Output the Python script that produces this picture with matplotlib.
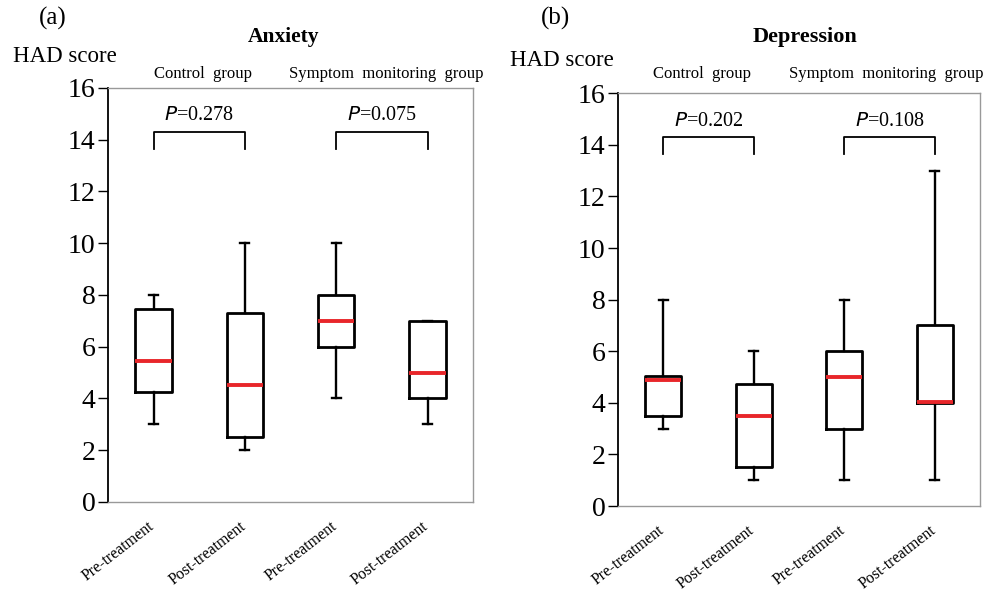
import matplotlib.pyplot as plt
from matplotlib.transforms import ScaledTranslation

plt.rcParams['font.family'] = ['Liberation Serif', 'DejaVu Serif']

# Data: box statistics (whisker low, Q1, median, Q3, whisker high)
groups = ['Pre-treatment', 'Post-treatment', 'Pre-treatment', 'Post-treatment']

anx_low = [3, 2, 4, 3]
anx_q1 = [4.25, 2.5, 6, 4]
anx_med = [5.45, 4.5, 7, 5]
anx_q3 = [7.45, 7.3, 8, 7]
anx_high = [8, 10, 10, 7]

dep_low = [3, 1, 1, 1]
dep_q1 = [3.5, 1.5, 3, 4]
dep_med = [4.9, 3.5, 5, 4.05]
dep_q3 = [5.05, 4.75, 6, 7]
dep_high = [8, 6, 8, 13]

anx_p = ['0.278', '0.075']
dep_p = ['0.202', '0.108']

fig = plt.figure(figsize=(9.87, 5.94), dpi=100)
ax_a = fig.add_axes([0.1094, 0.155, 0.370, 0.697])
ax_b = fig.add_axes([0.626, 0.148, 0.367, 0.695])


def draw_panel(ax, low, q1, med, q3, high, pvals):
    stats = []
    for i in range(len(groups)):
        stats.append({'whislo': low[i], 'q1': q1[i], 'med': med[i],
                      'q3': q3[i], 'whishi': high[i], 'fliers': []})
    ax.bxp(stats, positions=[1, 2, 3, 4], widths=0.4, capwidths=0.1,
           showfliers=False,
           boxprops=dict(color='black', linewidth=2),
           whiskerprops=dict(color='black', linewidth=1.7),
           capprops=dict(color='black', linewidth=1.7),
           medianprops=dict(color='#e8262a', linewidth=2.8))
    ax.set_xlim(0.5, 4.5)
    ax.set_ylim(0, 16)
    ax.set_yticks(range(0, 17, 2))
    ax.tick_params(axis='y', labelsize=20, direction='out', length=7,
                   width=1, pad=2)
    ax.tick_params(axis='x', length=0, pad=4)
    ax.set_xticks([1, 2, 3, 4])
    ax.set_xticklabels(groups, rotation=38, ha='right', fontsize=11.5,
                       rotation_mode='anchor')
    shift = ScaledTranslation(-6 / 100, -11 / 100, fig.dpi_scale_trans)
    for lbl in ax.get_xticklabels():
        lbl.set_transform(lbl.get_transform() + shift)
    for side in ['top', 'right', 'bottom']:
        ax.spines[side].set_color('#999999')
        ax.spines[side].set_linewidth(1)
    ax.spines['left'].set_color('black')
    ax.spines['left'].set_linewidth(1.3)
    # significance brackets
    for k, p in enumerate(pvals):
        x1, x2 = 1 + 2 * k, 2 + 2 * k
        ax.plot([x1, x1, x2, x2], [13.65, 14.3, 14.3, 13.65],
                color='black', linewidth=1.3)
        ax.text((x1 + x2) / 2, 14.55, r'$\it{P}$=' + p, ha='center',
                va='bottom', fontsize=14.5)


draw_panel(ax_a, anx_low, anx_q1, anx_med, anx_q3, anx_high, anx_p)
draw_panel(ax_b, dep_low, dep_q1, dep_med, dep_q3, dep_high, dep_p)

# panel labels and headings
fig.text(53 / 987, 1 - 18 / 594, '(a)', ha='center', va='center', fontsize=18)
fig.text(284 / 987, 1 - 37 / 594, 'Anxiety', ha='center', va='center',
         fontsize=15.5, fontweight='bold')
fig.text(65 / 987, 1 - 57 / 594, 'HAD score', ha='center', va='center',
         fontsize=16.5)
fig.text(203 / 987, 1 - 74 / 594, 'Control  group', ha='center',
         va='center', fontsize=12)
fig.text(386 / 987, 1 - 74 / 594, 'Symptom  monitoring  group', ha='center',
         va='center', fontsize=12)

fig.text(556 / 987, 1 - 18 / 594, '(b)', ha='center', va='center', fontsize=18)
fig.text(805 / 987, 1 - 37 / 594, 'Depression', ha='center', va='center',
         fontsize=16, fontweight='bold')
fig.text(562 / 987, 1 - 60 / 594, 'HAD score', ha='center', va='center',
         fontsize=16.5)
fig.text(702 / 987, 1 - 74 / 594, 'Control  group', ha='center',
         va='center', fontsize=12)
fig.text(886 / 987, 1 - 74 / 594, 'Symptom  monitoring  group', ha='center',
         va='center', fontsize=12)

fig.savefig('out.png', dpi=100)
